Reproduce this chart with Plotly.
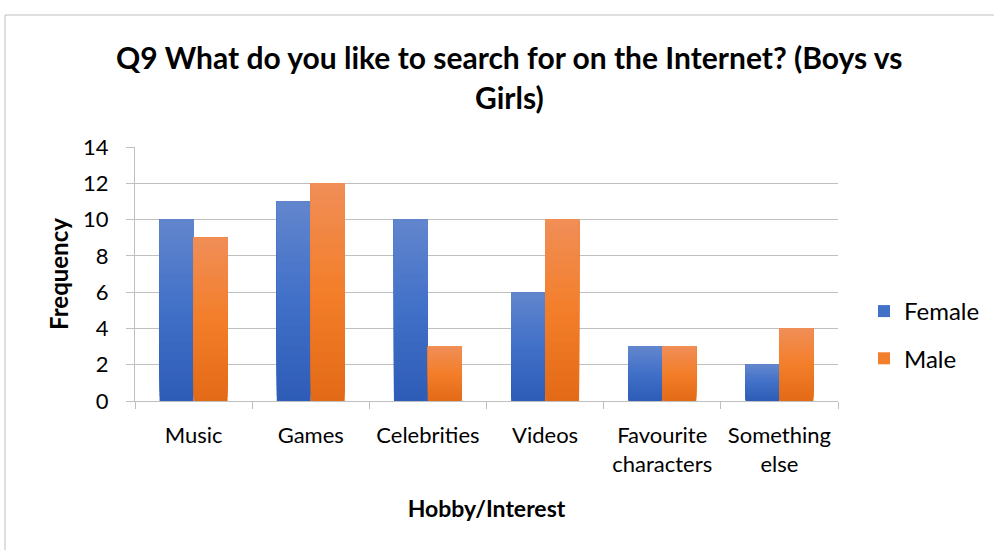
import plotly.graph_objects as go

# Survey answers: how many girls / boys chose each topic
categories = ["Music", "Games", "Celebrities", "Videos",
              "Favourite<br>characters", "Something<br>else"]
female = [10, 11, 10, 6, 3, 2]
male = [9, 12, 3, 10, 3, 4]
y_ticks = [0, 2, 4, 6, 8, 10, 12, 14]

FONT = "Lato"
W, H = 994, 550
M = dict(l=135, r=156, t=147, b=149)

# bottom -> middle -> top colour stops for the vertical gradient fill
female_stops = [(0x2D, 0x5C, 0xB6), (0x41, 0x70, 0xC8), (0x62, 0x86, 0xCD)]
male_stops = [(0xE3, 0x6A, 0x16), (0xF3, 0x7E, 0x2A), (0xF0, 0x8E, 0x57)]
N_SLICES = 40


def blend(stops, t):
    if t <= 0.5:
        a, b, u = stops[0], stops[1], t / 0.5
    else:
        a, b, u = stops[1], stops[2], (t - 0.5) / 0.5
    return "rgb(%d,%d,%d)" % tuple(round(a[i] + (b[i] - a[i]) * u) for i in range(3))


fig = go.Figure()


def add_series(name, values, stops):
    # each bar is painted as overlapping layers, every layer starting a bit
    # higher and ending at the bar's value, so it shades from dark to light
    for k in range(N_SLICES):
        t = (k + 0.5) / N_SLICES
        fig.add_trace(go.Bar(
            x=categories,
            y=[v * (1 - k / N_SLICES) for v in values],
            base=[v * k / N_SLICES for v in values],
            offsetgroup=name,
            legendgroup=name,
            name=name,
            showlegend=(k == N_SLICES // 2),
            marker=dict(color=blend(stops, t), line=dict(width=0)),
            hoverinfo="skip",
        ))


add_series("Female", female, female_stops)
add_series("Male", male, male_stops)

grid = "#BFBFBF"
pw = W - M["l"] - M["r"]
ph = H - M["t"] - M["b"]


def px_x(p):
    return (p - M["l"]) / pw


def px_y(p):
    return 1 - (p - M["t"]) / ph


fig.update_layout(
    width=W, height=H, margin=dict(M, autoexpand=False),
    paper_bgcolor="white", plot_bgcolor="white",
    barmode="group", bargap=0.42, bargroupgap=0,
    font=dict(family=FONT, size=23, color="#000000"),
    showlegend=True,
    legend=dict(
        x=px_x(864), y=px_y(289), xanchor="left", yanchor="top",
        traceorder="grouped", tracegroupgap=13,
        font=dict(family=FONT, size=24, color="#000000"),
        bgcolor="rgba(0,0,0,0)", itemwidth=30,
    ),
    xaxis=dict(
        type="category", tickson="boundaries", ticks="outside",
        ticklen=7, tickcolor=grid, showline=True, linecolor=grid,
        linewidth=1, showgrid=False, ticklabelstandoff=15,
        tickangle=0, automargin=False,
        tickfont=dict(family=FONT, size=22),
        title=dict(text="<b>Hobby/Interest</b>", standoff=24,
                   font=dict(family=FONT, size=23)),
    ),
    yaxis=dict(
        range=[0, 14], tickvals=y_ticks, ticks="outside", ticklen=8,
        tickcolor=grid, showline=True, linecolor=grid, linewidth=1,
        showgrid=True, gridcolor=grid, gridwidth=1, zeroline=False,
        automargin=False,
        tickfont=dict(family=FONT, size=22), ticklabelstandoff=13,
        title=dict(text="<b>Frequency</b>", standoff=7,
                   font=dict(family=FONT, size=24)),
    ),
    annotations=[
        dict(text="<b>Q9 What do you like to search for on the Internet? (Boys vs</b>",
             xref="paper", yref="paper", x=px_x(509), y=px_y(57),
             xanchor="center", yanchor="middle", showarrow=False,
             font=dict(family=FONT, size=30)),
        dict(text="<b>Girls)</b>",
             xref="paper", yref="paper", x=px_x(509), y=px_y(97),
             xanchor="center", yanchor="middle", showarrow=False,
             font=dict(family=FONT, size=30)),
    ],
    shapes=[
        dict(type="line", xref="paper", yref="paper",
             x0=px_x(5), x1=px_x(5), y0=px_y(15), y1=px_y(560),
             line=dict(color="#BFBFBF", width=1)),
        dict(type="line", xref="paper", yref="paper",
             x0=px_x(5), x1=px_x(1000), y0=px_y(15), y1=px_y(15),
             line=dict(color="#BFBFBF", width=1)),
    ],
)

fig.write_html("out.html")
